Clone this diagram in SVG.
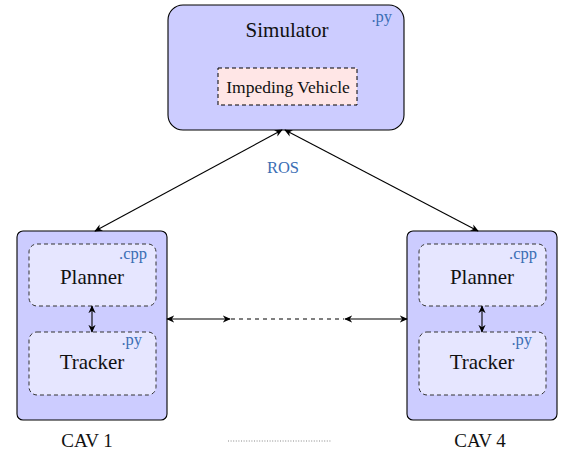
<svg xmlns="http://www.w3.org/2000/svg" width="562" height="459" viewBox="0 0 562 459">
  <style>
    .outer { fill: #ccccff; stroke: #000; stroke-width: 1.1; }
    .inner { fill: #e6e6ff; stroke: #333; stroke-width: 1; stroke-dasharray: 4 3; }
    .imped { fill: #ffe6e6; stroke: #000; stroke-width: 1; stroke-dasharray: 4 3; }
    .lbl { font-family: "Liberation Serif", serif; fill: #111; text-anchor: middle; }
    .big { font-size: 21px; }
    .mid { font-size: 17.5px; }
    .cav { font-size: 19px; }
    .tag { font-family: "Liberation Serif", serif; font-size: 16.5px; fill: #3b6eb4; text-anchor: end; }
    .conn { stroke: #000; stroke-width: 1.1; fill: none; }
    .dash { stroke: #000; stroke-width: 1; fill: none; stroke-dasharray: 4 4; }
    .dots { stroke: #555; stroke-width: 0.7; fill: none; stroke-dasharray: 1 1.6; }
  </style>
  <defs>
    <marker id="tip" viewBox="0 0 10 10" refX="9" refY="5" markerWidth="8" markerHeight="8" markerUnits="userSpaceOnUse" orient="auto-start-reverse">
      <path d="M0,0.5 L10,5 L0,9.5 L3,5 Z" fill="#000"/>
    </marker>
  </defs>

  <!-- Simulator -->
  <g id="simulator">
    <rect class="outer" x="168" y="5" width="236" height="125" rx="15"/>
    <text class="lbl big" font-family="Liberation Serif" x="287" y="37">Simulator</text>
    <text class="tag" font-family="Liberation Serif" x="392" y="22">.py</text>
  </g>
  <g id="impeding-vehicle">
    <rect class="imped" x="218" y="68" width="139" height="37"/>
    <text class="lbl mid" font-family="Liberation Serif" x="288" y="93">Impeding Vehicle</text>
  </g>

  <!-- CAV 1 -->
  <g id="cav1">
    <rect class="outer" x="17" y="231" width="150" height="189" rx="6"/>
    <text class="lbl cav" font-family="Liberation Serif" x="87" y="447">CAV 1</text>
  </g>
  <g id="cav1-planner">
    <rect class="inner" x="29" y="244" width="127" height="62" rx="8"/>
    <text class="lbl big" font-family="Liberation Serif" x="92" y="284">Planner</text>
    <text class="tag" font-family="Liberation Serif" x="147" y="259">.cpp</text>
  </g>
  <g id="cav1-tracker">
    <rect class="inner" x="29" y="332" width="127" height="63" rx="8"/>
    <text class="lbl big" font-family="Liberation Serif" x="92" y="369">Tracker</text>
    <text class="tag" font-family="Liberation Serif" x="142" y="345">.py</text>
  </g>

  <!-- CAV 4 -->
  <g id="cav4">
    <rect class="outer" x="407" y="231" width="150" height="189" rx="6"/>
    <text class="lbl cav" font-family="Liberation Serif" x="480" y="447">CAV 4</text>
  </g>
  <g id="cav4-planner">
    <rect class="inner" x="419" y="244" width="127" height="62" rx="8"/>
    <text class="lbl big" font-family="Liberation Serif" x="482" y="284">Planner</text>
    <text class="tag" font-family="Liberation Serif" x="537" y="259">.cpp</text>
  </g>
  <g id="cav4-tracker">
    <rect class="inner" x="419" y="332" width="127" height="63" rx="8"/>
    <text class="lbl big" font-family="Liberation Serif" x="482" y="369">Tracker</text>
    <text class="tag" font-family="Liberation Serif" x="532" y="345">.py</text>
  </g>

  <!-- connectors -->
  <g id="connectors">
    <line class="conn" x1="95" y1="231" x2="282" y2="130" marker-start="url(#tip)" marker-end="url(#tip)"/>
    <line class="conn" x1="478" y1="231" x2="285" y2="130" marker-start="url(#tip)" marker-end="url(#tip)"/>
    <text class="tag" font-family="Liberation Serif" style="text-anchor:middle" x="283" y="173">ROS</text>

    <line class="conn" x1="92" y1="306" x2="92" y2="332" marker-start="url(#tip)" marker-end="url(#tip)"/>
    <line class="conn" x1="482" y1="306" x2="482" y2="332" marker-start="url(#tip)" marker-end="url(#tip)"/>

    <line class="conn" x1="167" y1="319" x2="230" y2="319" marker-start="url(#tip)" marker-end="url(#tip)"/>
    <line class="dash" x1="231" y1="319" x2="344" y2="319"/>
    <line class="conn" x1="345" y1="319" x2="407" y2="319" marker-start="url(#tip)" marker-end="url(#tip)"/>

    <line class="dots" x1="228" y1="441" x2="331" y2="441"/>
  </g>
</svg>
